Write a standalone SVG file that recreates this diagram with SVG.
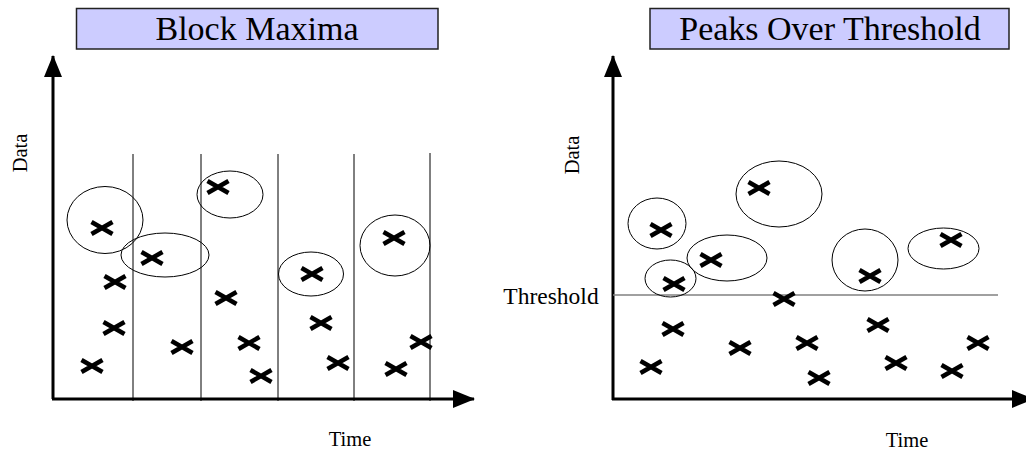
<svg xmlns="http://www.w3.org/2000/svg" width="1026" height="452" viewBox="0 0 1026 452">
  <style>
    .title-box { fill: #ccccff; stroke: #222; stroke-width: 1.5; }
    .title { font-family: "Liberation Serif", "Times New Roman", serif; font-size: 34px; fill: #000; text-anchor: middle; }
    .label { font-family: "Liberation Serif", "Times New Roman", serif; font-size: 20.5px; fill: #000; text-anchor: middle; }
    .axis { stroke: #000; stroke-width: 3; fill: none; }
    .divider { stroke: #000; stroke-width: 1; fill: none; }
    .ring { stroke: #000; stroke-width: 1; fill: none; }
    .threshold { stroke: #808080; stroke-width: 1.5; fill: none; }
    .mark { stroke: #000; stroke-width: 4.5; fill: none; }
  </style>
  <defs>
    <marker id="arrow" viewBox="0 0 22 20" refX="21" refY="10" markerWidth="22" markerHeight="20" markerUnits="userSpaceOnUse" orient="auto">
      <path d="M0,1 L22,10 L0,19 z" fill="#000"/>
    </marker>
    <path id="x" d="M-10.5,-6 L10.5,6 M-10.5,6 L10.5,-6"/>
  </defs>
  <rect width="1026" height="452" fill="#fff"/>

  <!-- Block Maxima panel -->
  <g id="block-maxima">
    <g id="bm-title">
      <rect class="title-box" x="76.5" y="8.5" width="361.5" height="40.5"/>
      <text class="title" x="257" y="40">Block Maxima</text>
    </g>
    <g id="bm-axes">
      <line class="axis" x1="53" y1="399" x2="53" y2="56" marker-end="url(#arrow)"/>
      <line class="axis" x1="52" y1="399" x2="474" y2="399" marker-end="url(#arrow)"/>
      <text class="label" transform="translate(27,153) rotate(-90)">Data</text>
      <text class="label" x="350" y="446">Time</text>
    </g>
    <g id="bm-blocks">
      <line class="divider" x1="133" y1="154" x2="133" y2="401"/>
      <line class="divider" x1="201" y1="154" x2="201" y2="401"/>
      <line class="divider" x1="278" y1="154" x2="278" y2="401"/>
      <line class="divider" x1="354" y1="154" x2="354" y2="401"/>
      <line class="divider" x1="430" y1="153" x2="430" y2="401"/>
    </g>
    <g id="bm-maxima">
      <ellipse class="ring" cx="105" cy="220" rx="38" ry="33.5"/>
      <ellipse class="ring" cx="165" cy="255" rx="44" ry="22"/>
      <ellipse class="ring" cx="230" cy="194.5" rx="33" ry="23.5"/>
      <ellipse class="ring" cx="311" cy="274" rx="32.5" ry="22"/>
      <ellipse class="ring" cx="395" cy="245.5" rx="35" ry="30.5"/>
    </g>
    <g id="bm-points" class="mark">
      <use href="#x" x="102" y="228"/>
      <use href="#x" x="152" y="258"/>
      <use href="#x" x="115" y="282"/>
      <use href="#x" x="114" y="328"/>
      <use href="#x" x="92" y="366"/>
      <use href="#x" x="182" y="347"/>
      <use href="#x" x="218" y="187"/>
      <use href="#x" x="226" y="298"/>
      <use href="#x" x="249" y="343"/>
      <use href="#x" x="261" y="376"/>
      <use href="#x" x="312" y="274"/>
      <use href="#x" x="321" y="323"/>
      <use href="#x" x="338" y="363"/>
      <use href="#x" x="394" y="238"/>
      <use href="#x" x="421" y="342"/>
      <use href="#x" x="396" y="369"/>
    </g>
  </g>

  <!-- Peaks Over Threshold panel -->
  <g id="peaks-over-threshold">
    <g id="pot-title">
      <rect class="title-box" x="650" y="8.5" width="359" height="40.5"/>
      <text class="title" x="830" y="40">Peaks Over Threshold</text>
    </g>
    <g id="pot-axes">
      <line class="axis" x1="613" y1="400" x2="613" y2="56" marker-end="url(#arrow)"/>
      <line class="axis" x1="612" y1="399" x2="1033" y2="399" marker-end="url(#arrow)"/>
      <text class="label" transform="translate(579,155) rotate(-90)">Data</text>
      <text class="label" x="907" y="447">Time</text>
    </g>
    <g id="pot-threshold">
      <line class="threshold" x1="613" y1="295" x2="998" y2="295"/>
      <text class="label" x="551" y="304" style="font-size:23.5px">Threshold</text>
    </g>
    <g id="pot-exceedances">
      <ellipse class="ring" cx="657" cy="223.5" rx="29" ry="25.5"/>
      <ellipse class="ring" cx="779" cy="194" rx="43" ry="33"/>
      <ellipse class="ring" cx="727" cy="258" rx="40" ry="23"/>
      <ellipse class="ring" cx="670.5" cy="278.5" rx="25.5" ry="18.5"/>
      <ellipse class="ring" cx="865" cy="260" rx="33" ry="31"/>
      <ellipse class="ring" cx="943.5" cy="248.5" rx="35.5" ry="20.5"/>
    </g>
    <g id="pot-points" class="mark">
      <use href="#x" x="661" y="230"/>
      <use href="#x" x="711" y="260"/>
      <use href="#x" x="674" y="284"/>
      <use href="#x" x="759" y="188"/>
      <use href="#x" x="784" y="299"/>
      <use href="#x" x="870" y="276"/>
      <use href="#x" x="951" y="240"/>
      <use href="#x" x="673" y="329"/>
      <use href="#x" x="651" y="367"/>
      <use href="#x" x="740" y="348"/>
      <use href="#x" x="807" y="343"/>
      <use href="#x" x="819" y="378"/>
      <use href="#x" x="878" y="325"/>
      <use href="#x" x="896" y="363"/>
      <use href="#x" x="952" y="371"/>
      <use href="#x" x="978" y="343"/>
    </g>
  </g>
</svg>
